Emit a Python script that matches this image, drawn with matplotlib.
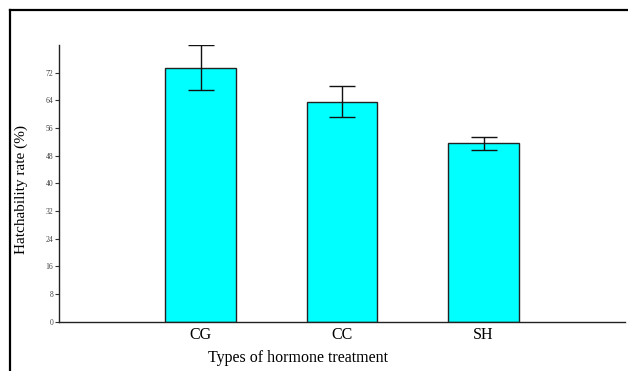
import numpy as np
import matplotlib
matplotlib.use("Agg")
import matplotlib.pyplot as plt
from matplotlib.lines import Line2D

# Hatchability by hormone treatment
groups = ["CG", "CC", "SH"]
hatch_rate = [73.4, 63.6, 51.6]
hatch_err = [6.5, 4.5, 1.9]
y_ticks = [0, 8, 16, 24, 32, 40, 48, 56, 64, 72]

plt.rcParams['font.family'] = ['Liberation Serif', 'DejaVu Serif']

fig = plt.figure(figsize=(6.28, 3.71), dpi=100)
ax = fig.add_axes([59/628, 1 - 321.7/371, (625 - 59)/628, (321.7 - 45)/371])

x = np.arange(1, len(groups) + 1)
ax.bar(x, hatch_rate, width=0.5, color="#00ffff", edgecolor="#222222", linewidth=1.0)
ax.errorbar(x, hatch_rate, yerr=hatch_err, fmt="none", ecolor="#111111",
            elinewidth=1.0, capsize=9.5, capthick=1.0)

ax.set_xlim(0, 4)
ax.set_ylim(0, 80)
ax.set_xticks(x)
ax.set_xticklabels(groups, fontsize=11.5)
ax.set_yticks(y_ticks)
ax.set_yticklabels([str(t) for t in y_ticks], fontsize=5.5, color="#444444")
ax.tick_params(axis="x", length=0, pad=4)
ax.tick_params(axis="y", length=3, width=0.8, pad=1, color="#333333")

for side in ["top", "right"]:
    ax.spines[side].set_visible(False)
ax.spines["left"].set_linewidth(1.0)
ax.spines["bottom"].set_linewidth(1.0)
ax.spines["left"].set_color("#222222")
ax.spines["bottom"].set_color("#222222")

fig.text(21/628, 1 - 189/371, "Hatchability rate (%)", rotation=90,
         ha="center", va="center", fontsize=11)
fig.text(298/628, 1 - 358/371, "Types of hormone treatment",
         ha="center", va="center", fontsize=11.5)

# outer frame: top and left edges only
fig.add_artist(Line2D([10/628, 1], [1 - 10/371, 1 - 10/371], color="black", linewidth=1.6,
                      transform=fig.transFigure))
fig.add_artist(Line2D([10/628, 10/628], [0, 1 - 10/371], color="black", linewidth=1.6,
                      transform=fig.transFigure))

fig.savefig("out.png", dpi=100)
